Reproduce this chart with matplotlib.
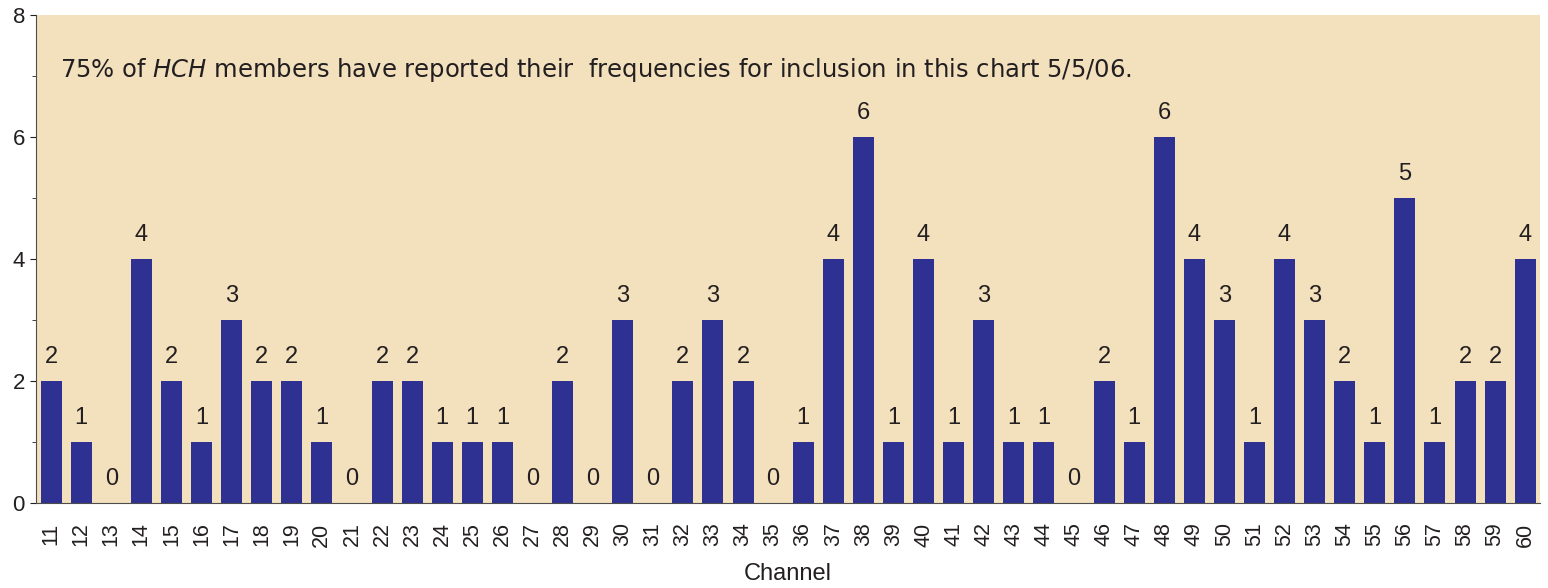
import numpy as np
import matplotlib.pyplot as plt

plt.rcParams['font.family'] = ['Liberation Sans', 'DejaVu Sans']

# channel numbers and how many members use each
channels = list(range(11, 61))
counts = [2, 1, 0, 4, 2, 1, 3, 2, 2, 1,
          0, 2, 2, 1, 1, 1, 0, 2, 0, 3,
          0, 2, 3, 2, 0, 1, 4, 6, 1, 4,
          1, 3, 1, 1, 0, 2, 1, 6, 4, 3,
          1, 4, 3, 2, 1, 5, 1, 2, 2, 4]

note = '75% of $\\it{HCH}$ members have reported their  frequencies for inclusion in this chart 5/5/06.'

fig = plt.figure(figsize=(15.48, 5.88), dpi=100)
ax = fig.add_axes([0.0233, 0.1446, 0.9717, 0.83])
ax.set_facecolor('#f3e0bd')

x = np.arange(len(channels))
ax.bar(x, counts, width=0.7, color='#2e3192', zorder=2)
for xi, c in zip(x, counts):
    ax.text(xi, c + 0.22, str(c), ha='center', va='bottom', fontsize=17, color='#231f20')

ax.set_xlim(-0.5, len(channels) - 0.5)
ax.set_ylim(0, 8)
ax.set_yticks([0, 2, 4, 6, 8])
ax.set_yticks([1, 3, 5, 7], minor=True)
ax.tick_params(axis='y', which='major', length=4, pad=4, labelsize=16, colors='#231f20')
ax.tick_params(axis='y', which='minor', length=3, colors='#231f20')
ax.set_xticks(x)
ax.set_xticklabels([str(c) for c in channels], rotation=90, fontsize=15.5, color='#231f20')
ax.tick_params(axis='x', length=0, pad=14)

for s in ['top', 'right']:
    ax.spines[s].set_visible(False)
ax.spines['left'].set_color('#4d4d4d')
ax.spines['bottom'].set_color('#4d4d4d')

fig.text(0.509, 1 - 574 / 588, 'Channel', fontsize=17, color='#231f20', ha='center', va='center')

ax.text(0.28, 7.1, note, fontsize=17.5, color='#231f20', va='center', ha='left',
        family='DejaVu Sans')

fig.savefig('out.png', dpi=100)
